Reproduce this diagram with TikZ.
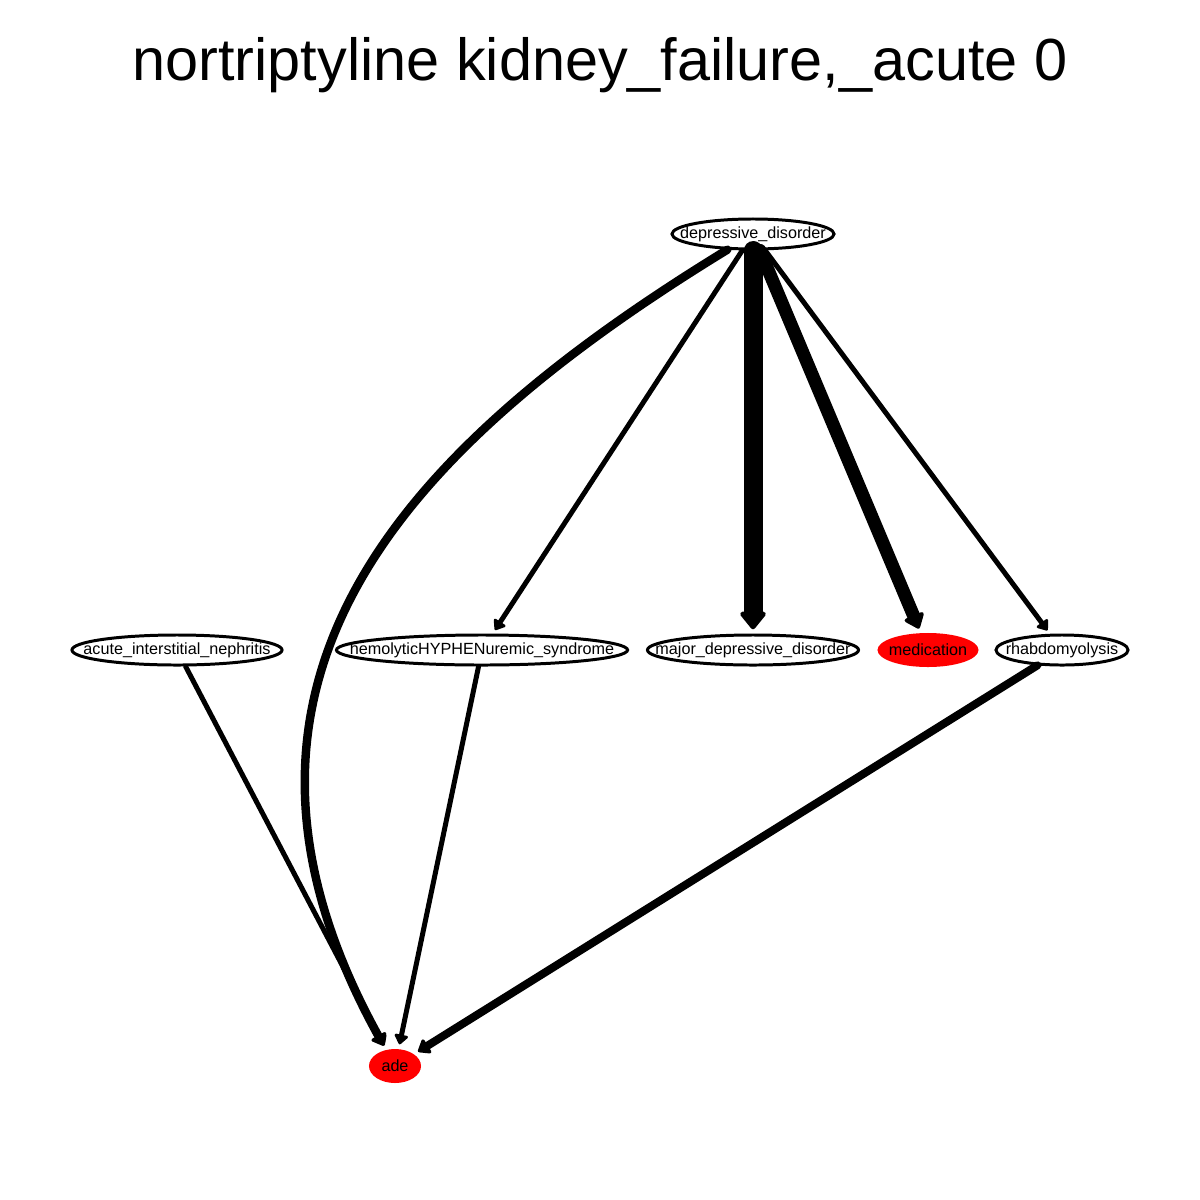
\documentclass[tikz,border=0pt]{standalone}
\usepackage{fontspec}
\setmainfont{Liberation Sans}
\usetikzlibrary{arrows.meta,shapes.geometric}
\definecolor{hitred}{rgb}{1,0,0}
\newcommand{\nlab}[1]{\makebox[0pt]{#1}}

\begin{document}
\begin{tikzpicture}[
    x=0.01cm, y=-0.01cm,
    every node/.style={font=\fontsize{4.6}{5}\selectfont, inner sep=0pt},
    term/.style={draw, ellipse, line width=0.85pt, fill=white},
    hit/.style={ellipse, fill=hitred},
    arr/.style={line width=#1, line cap=round, shorten >=1.2pt,
                -{Triangle[length=2.2pt 0.6, width=3pt 1, round]}},
]
    % page frame, pixel units (y downwards)
    \useasboundingbox (0,0) rectangle (1200,1200);

    \node (title) at (600,65)
        {\fontsize{16.9}{18}\selectfont nortriptyline kidney\_failure,\_acute 0};

    % top row
    \node[term, minimum width=1.62cm, minimum height=0.30cm] (dd)  at (753,234) {\nlab{depressive\_disorder}};

    % middle row
    \node[term, minimum width=2.10cm, minimum height=0.30cm] (ain) at (177,650) {\nlab{acute\_interstitial\_nephritis}};
    \node[term, minimum width=2.91cm, minimum height=0.30cm] (hus) at (482,650) {\nlab{hemolyticHYPHENuremic\_syndrome}};
    \node[term, minimum width=2.11cm, minimum height=0.30cm] (mdd) at (753,650) {\nlab{major\_depressive\_disorder}};
    \node[hit,  minimum width=1.01cm, minimum height=0.34cm] (med) at (928,650) {\nlab{medication}};
    \node[term, minimum width=1.32cm, minimum height=0.30cm] (rha) at (1062,650) {\nlab{rhabdomyolysis}};

    % bottom
    \node[hit,  minimum width=0.52cm, minimum height=0.34cm] (ade) at (395,1066) {\nlab{ade}};

    % edges out of depressive_disorder
    \draw[arr=2.4pt] (dd) .. controls (400,450) and (184,684) .. (ade);
    \draw[arr=1.42pt] (dd) -- (hus);
    \draw[arr=5.4pt]  (dd) -- (mdd);
    \draw[arr=3.7pt]  (dd) -- (med);
    \draw[arr=1.42pt] (dd) -- (rha);

    % edges into ade
    \draw[arr=1.42pt] (ain) -- (ade);
    \draw[arr=1.42pt] (hus) -- (ade);
    \draw[arr=2.28pt] (rha) -- (ade);

\end{tikzpicture}
\end{document}
